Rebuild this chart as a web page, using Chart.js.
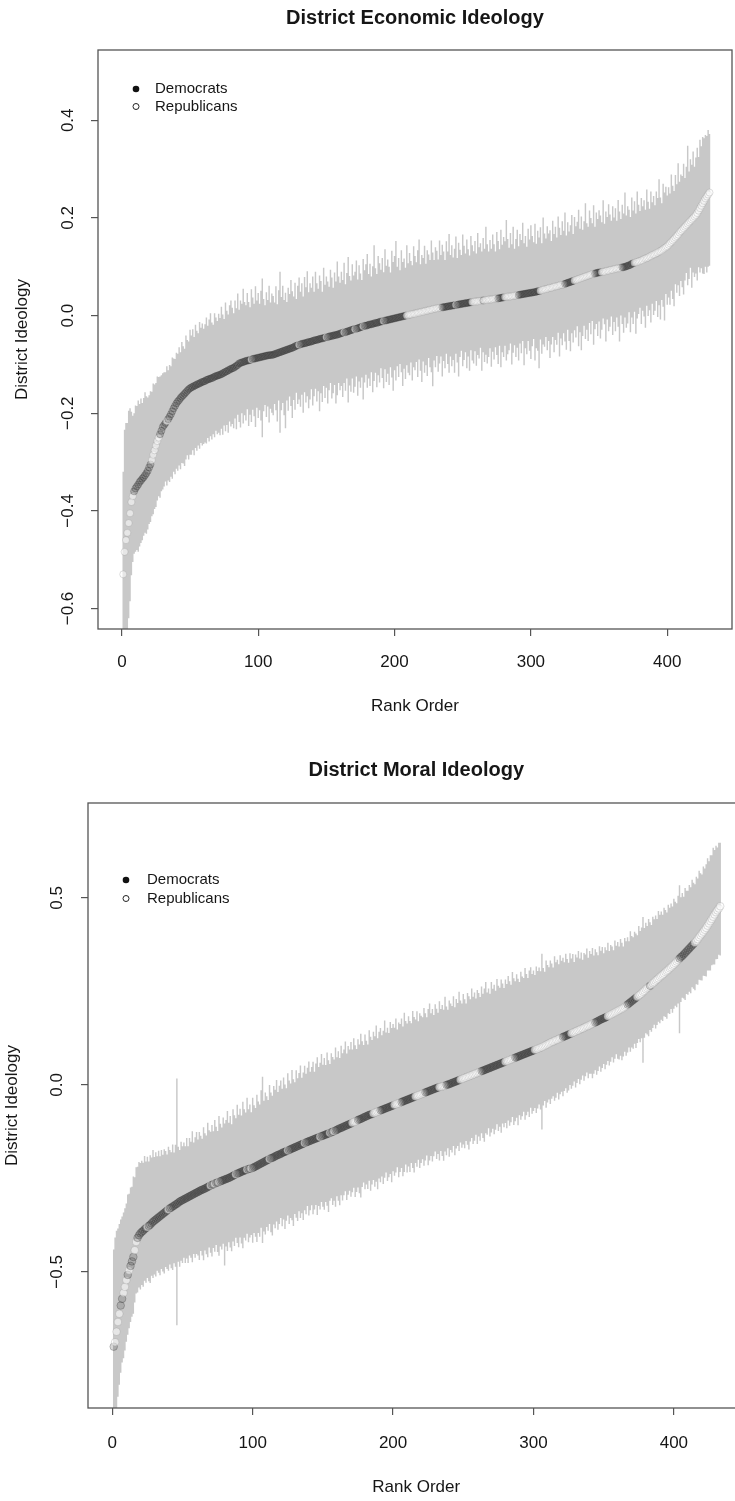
<!DOCTYPE html>
<html>
<head>
<meta charset="utf-8">
<script src="https://cdn.jsdelivr.net/npm/chart.js@4"></script>
<style>
  html, body { margin: 0; padding: 0; background: #fff; overflow: hidden; }
  #page { position: relative; width: 735px; height: 1501px; overflow: hidden; }
  canvas { position: absolute; left: 0; }
  #econ { top: 0; }
  #moral { top: 745px; }
</style>
</head>
<body>
<div id="page">
  <canvas id="econ" width="740" height="745"></canvas>
  <canvas id="moral" width="760" height="756"></canvas>
</div>
<script>
// All district values are in thousandths, listed by rank order (rank 1 first).
// est = point estimate, up / down = length of the interval above / below it.
// party: D = Democrat, R = Republican.

const xTicks = [0, 100, 200, 300, 400];
const econYTicks = [-0.6, -0.4, -0.2, 0, 0.2, 0.4];
const moralYTicks = [-0.5, 0, 0.5];

const econEst = [
  -530,-484,-460,-445,-425,-405,-382,-370,-360,-354,
  -350,-346,-341,-338,-334,-331,-327,-323,-318,-311,
  -305,-296,-285,-276,-266,-257,-250,-243,-236,-228,
  -224,-220,-216,-212,-207,-202,-196,-190,-185,-180,
  -176,-173,-169,-166,-163,-160,-157,-154,-151,-149,
  -147,-146,-144,-143,-141,-140,-139,-137,-136,-135,
  -134,-132,-131,-130,-129,-128,-127,-125,-124,-123,
  -122,-121,-120,-118,-117,-115,-114,-112,-111,-109,
  -108,-107,-105,-103,-101,-98,-97,-96,-95,-94,
  -93,-92,-92,-91,-90,-89,-88,-88,-87,-86,
  -86,-85,-84,-84,-83,-82,-82,-81,-81,-81,
  -80,-79,-78,-77,-76,-75,-74,-73,-72,-71,
  -70,-69,-68,-67,-66,-65,-63,-62,-61,-60,
  -59,-58,-57,-57,-56,-55,-54,-54,-53,-52,
  -51,-50,-50,-49,-48,-47,-47,-46,-45,-44,
  -44,-43,-42,-42,-41,-40,-40,-39,-38,-37,
  -36,-35,-34,-34,-33,-32,-31,-30,-29,-28,
  -28,-27,-26,-25,-24,-23,-22,-21,-21,-20,
  -19,-18,-18,-17,-16,-15,-15,-14,-13,-12,
  -12,-11,-10,-10,-9,-8,-8,-7,-6,-6,
  -5,-4,-4,-3,-2,-2,-1,0,0,1,
  2,2,3,4,4,5,6,6,7,8,
  8,9,10,10,11,12,12,13,14,14,
  15,15,16,16,17,17,18,18,19,19,
  20,20,21,21,22,22,23,23,24,24,
  25,25,26,26,27,27,28,28,29,29,
  29,30,30,31,31,31,32,32,33,33,
  33,34,34,35,35,35,36,36,37,37,
  38,38,39,39,39,40,40,41,41,42,
  42,43,43,44,44,45,45,46,46,47,
  47,48,48,49,50,50,51,52,53,54,
  54,55,56,57,57,58,59,60,60,61,
  62,63,63,64,65,66,67,68,69,70,
  71,72,73,74,75,76,77,78,79,80,
  81,82,83,84,85,86,86,87,88,88,
  89,89,90,90,91,92,92,93,94,94,
  95,96,96,97,97,98,99,99,100,101,
  102,103,104,106,107,108,109,110,111,112,
  113,114,116,117,118,119,121,122,124,125,
  126,128,129,131,132,134,136,138,140,142,
  145,148,151,154,157,160,163,166,170,173,
  176,179,182,185,188,191,194,197,200,203,
  206,210,215,220,225,230,235,240,244,248,252
];

const econUp = [
  210,250,240,225,230,215,185,165,160,170,
  165,172,160,168,155,162,170,158,150,148,
  150,140,146,135,128,132,124,118,114,110,
  108,104,112,100,106,98,110,102,96,104,
  98,108,94,112,100,92,116,104,98,120,
  106,118,100,124,110,104,126,112,120,108,
  116,128,110,122,134,114,108,130,120,112,
  126,116,138,120,110,142,124,114,132,140,
  124,112,136,118,146,110,128,120,150,122,
  114,138,120,108,144,126,112,148,118,132,
  110,136,160,118,104,130,114,142,108,126,
  120,106,138,100,128,165,112,134,104,118,
  98,126,112,140,116,104,130,96,122,138,
  108,124,96,136,114,146,102,120,110,132,
  100,140,116,104,130,118,96,144,108,124,
  114,102,136,120,98,128,110,150,118,104,
  126,108,142,98,120,152,112,102,134,110,
  118,140,100,128,110,96,138,114,126,146,
  104,124,98,118,160,112,100,136,120,106,
  130,100,146,112,124,108,96,140,116,128,
  158,104,122,96,136,112,118,98,144,106,
  126,110,100,138,118,104,128,150,98,116,
  110,134,96,124,114,102,142,116,100,126,
  118,100,138,108,128,114,96,134,112,148,
  104,124,98,116,140,96,126,112,100,142,
  118,102,130,110,96,136,116,104,124,98,
  140,110,118,100,128,106,150,114,98,122,
  104,132,112,96,136,118,100,140,108,124,
  114,158,118,100,130,106,142,96,116,134,
  100,124,112,146,104,118,96,132,110,138,
  116,102,140,98,124,110,130,96,148,114,
  104,128,112,118,96,136,108,122,100,142,
  118,102,130,110,146,98,124,104,116,136,
  96,130,110,118,142,102,126,98,114,150,
  108,100,132,116,104,140,96,124,110,128,
  116,102,146,98,122,110,136,114,100,130,
  106,124,98,140,116,100,128,110,152,104,
  122,114,98,136,108,126,100,144,116,102,
  128,110,120,100,140,114,98,132,108,120,
  100,126,112,148,110,96,134,114,124,104,
  118,102,138,112,98,128,106,146,104,116,
  110,132,100,120,160,104,126,112,136,102,
  118,134,110,140,122,136,128,130,124,132,120
];

const econDown = [
  160,180,190,200,195,180,150,135,128,130,
  130,138,132,128,126,120,118,124,120,116,
  118,115,122,120,126,122,120,130,124,128,
  126,120,132,126,134,128,138,130,140,134,
  142,134,146,136,140,148,138,132,144,136,
  138,130,142,128,136,126,134,124,130,128,
  126,130,120,128,118,126,116,124,112,120,
  118,124,112,126,108,122,110,128,106,118,
  114,124,106,130,102,120,132,104,126,110,
  122,100,134,112,128,104,118,140,102,124,
  108,130,165,112,100,126,104,138,110,118,
  124,102,116,140,98,165,120,106,132,160,
  104,126,98,118,144,108,130,96,120,112,
  128,104,142,100,122,110,136,118,98,132,
  114,100,126,106,148,112,130,98,124,104,
  136,110,96,128,118,102,140,124,100,116,
  108,132,104,120,96,146,112,126,100,130,
  118,98,138,110,124,104,150,116,100,128,
  110,126,98,140,118,102,132,108,124,96,
  116,138,100,126,110,134,98,120,148,106,
  128,100,122,96,114,142,108,130,102,118,
  124,98,136,110,116,100,132,96,120,144,
  102,126,112,134,98,118,128,158,106,120,
  98,130,114,100,142,110,126,96,118,136,
  104,124,112,138,100,118,148,108,96,128,
  116,100,134,110,140,98,120,126,102,132,
  110,118,96,144,106,126,112,130,118,100,
  138,108,124,100,116,134,98,142,112,122,
  100,130,118,110,96,140,116,102,126,108,
  134,100,120,96,146,112,124,98,118,136,
  110,96,140,116,122,158,100,130,112,118,
  98,126,108,144,116,102,134,110,120,96,
  146,110,124,100,118,136,96,120,142,106,
  126,102,118,96,138,110,148,120,100,128,
  110,134,98,122,96,146,114,104,130,100,
  136,118,96,108,144,100,124,116,96,134,
  108,128,100,120,150,98,116,134,104,126,
  118,96,138,110,124,100,146,116,108,96,
  130,104,118,142,98,120,110,136,100,124,
  116,98,132,110,140,102,118,148,96,120,
  108,126,100,120,138,96,116,104,130,102,
  118,136,110,98,126,116,96,140,112,124,
  120,138,116,132,128,144,150,140,156,148,150
];

const econParty = [
  'RRRRRRRRDD','DDDDDDDDDD','DRRRRRRDDD','DDRDDDDDDD','DDDDDDDDDD',
  'DDDDDDDDDD','DDDDDDDDDD','DDDDDDDDDD','DDDDDDDDDD','DDDDRDDDDD',
  'DDDDDDDDDD','DDDDDDDDDD','DDDDDDDDDR','DDDDDDDDDD','DDDDDDDDDR',
  'DDDDDDDDDD','DDRDDDDDDD','RDDDDDRDDD','DDDDDDDDDD','DRDDDDDDDD',
  'DDDDDDDDRR','RRRRRRRRRR','RRRRRRRRRR','RRRRDDDDDD','DDDDRDDDDD',
  'DDDDDDRRRR','RRRRDRRRRR','RRRRRDDDDD','RRRRRRRRRR','DDDDDDDDDD',
  'DDDDDDRRRR','RRRRRRRRRR','RRRRDDDDDD','DRRRRRRRRR','RRRRRRDDDD',
  'DRRRRRRRRR','RRRRRRDDDD','DDDDDRRRRR','RRRRRRRRRR','RRRRRRRRRR',
  'RRRRRRRRRR','RRRRRRRRRR','RRRRRRRRRRR'
].join('');

const moralEst = [
  -700,-688,-660,-634,-612,-590,-572,-556,-540,-522,
  -508,-496,-484,-472,-460,-442,-420,-409,-402,-397,
  -393,-390,-386,-383,-380,-377,-374,-370,-366,-363,
  -360,-357,-354,-351,-348,-345,-342,-339,-336,-333,
  -330,-328,-325,-323,-320,-318,-315,-312,-310,-308,
  -306,-304,-302,-300,-298,-296,-294,-292,-290,-288,
  -286,-284,-282,-280,-279,-277,-275,-273,-271,-269,
  -267,-266,-264,-262,-261,-259,-258,-256,-255,-253,
  -252,-250,-249,-247,-245,-243,-241,-239,-237,-236,
  -234,-232,-231,-229,-228,-226,-225,-224,-223,-222,
  -220,-218,-216,-214,-212,-210,-208,-206,-204,-202,
  -200,-198,-196,-195,-193,-191,-189,-187,-186,-184,
  -182,-180,-179,-177,-175,-174,-172,-170,-169,-167,
  -165,-164,-162,-160,-159,-157,-155,-154,-152,-151,
  -149,-148,-146,-145,-143,-142,-140,-139,-137,-136,
  -134,-133,-131,-130,-128,-127,-125,-124,-122,-120,
  -118,-116,-115,-113,-111,-110,-108,-106,-105,-103,
  -101,-99,-98,-96,-94,-92,-91,-89,-87,-85,
  -84,-82,-80,-79,-78,-76,-74,-73,-71,-70,
  -68,-67,-65,-64,-62,-61,-59,-58,-56,-55,
  -53,-52,-50,-49,-47,-46,-44,-43,-41,-40,
  -38,-37,-35,-34,-32,-31,-29,-28,-26,-25,
  -23,-22,-20,-19,-17,-16,-14,-13,-11,-10,
  -8,-7,-6,-5,-4,-3,-2,0,1,2,
  4,5,7,8,10,11,13,14,16,17,
  19,20,22,23,25,26,28,29,31,32,
  34,35,37,38,40,41,43,44,46,47,
  49,50,52,53,55,56,58,59,61,62,
  64,65,67,68,70,71,73,74,76,77,
  79,80,82,83,85,86,88,89,91,92,
  94,95,97,98,100,101,103,105,107,109,
  111,113,115,116,118,120,121,123,125,126,
  128,130,131,133,135,136,138,140,141,143,
  145,146,148,150,151,153,155,157,158,160,
  162,164,166,167,169,171,173,175,177,178,
  180,182,184,186,188,190,192,194,196,198,
  200,202,204,206,209,212,215,218,221,224,
  227,230,233,236,239,242,245,249,252,256,
  259,262,265,268,272,275,279,282,285,289,
  292,295,298,302,305,308,312,315,319,322,
  326,330,334,338,342,345,349,353,357,361,
  365,369,373,377,381,385,390,395,400,405,
  410,415,420,426,432,438,444,450,456,462,467,472,478
];

const moralUp = [
  260,280,270,250,240,230,220,215,210,205,
  215,205,210,200,215,195,200,190,196,188,
  190,182,196,178,188,172,186,176,192,170,
  180,166,178,160,174,158,170,162,150,168,
  156,148,166,142,160,335,150,138,158,144,
  152,140,160,136,156,144,170,138,150,162,
  140,158,146,136,166,148,140,172,150,144,
  160,142,170,150,138,176,154,142,168,150,
  158,180,148,164,140,178,160,150,184,156,
  170,150,186,164,154,192,160,172,150,188,
  166,156,190,170,160,196,230,164,184,172,
  160,198,176,166,190,178,202,168,184,196,
  172,200,180,168,206,186,176,210,184,174,
  204,182,194,212,178,190,206,184,198,214,
  184,196,208,180,200,216,188,198,220,190,
  206,186,218,196,184,212,200,192,222,194,
  208,188,220,198,206,226,192,210,200,218,
  196,224,204,192,216,200,228,206,194,220,
  202,190,226,208,198,218,204,232,196,212,
  220,200,210,236,202,214,198,226,208,218,
  206,230,198,216,210,224,200,236,212,204,
  222,208,200,232,214,206,226,198,218,210,
  204,228,212,200,220,234,206,216,198,226,
  212,200,230,208,218,204,238,210,200,224,
  214,206,230,200,220,208,236,212,202,226,
  210,198,224,214,204,232,208,218,200,222,
  212,200,226,206,218,234,204,214,198,228,
  208,218,200,230,210,204,224,212,198,220,
  206,226,210,200,232,214,204,222,208,198,
  224,210,204,230,212,200,218,226,206,214,
  200,222,208,216,204,250,210,198,226,212,
  204,220,210,198,226,208,214,200,222,206,
  212,198,220,204,192,216,200,210,188,206,
  196,212,190,204,184,200,194,208,182,198,
  188,202,180,196,186,176,198,184,192,174,
  188,178,196,172,186,180,168,192,176,184,
  170,188,176,164,184,172,180,166,190,174,
  168,180,172,164,186,170,176,200,168,178,
  166,182,170,160,178,168,174,162,180,166,
  172,160,176,166,156,174,162,170,158,176,
  164,156,172,196,160,168,154,174,162,158,
  170,160,176,164,156,172,162,178,166,158,
  174,164,170,180,166,176,170,184,172,178,168,176,170
];

const moralDown = [
  200,220,210,200,190,180,170,175,170,165,
  160,155,150,148,152,140,138,146,140,150,
  142,150,138,146,136,148,156,140,150,144,
  152,140,148,158,144,154,162,148,156,164,
  150,162,170,154,166,325,158,174,160,168,
  156,172,162,176,158,166,180,160,172,164,
  170,184,162,176,190,166,178,188,164,180,
  192,170,182,166,186,198,174,184,170,230,
  180,194,172,188,200,176,190,170,186,198,
  174,192,206,180,188,172,196,184,178,200,
  176,188,204,182,194,172,215,186,196,178,
  190,174,198,208,180,192,176,200,186,172,
  196,180,206,186,174,198,184,192,208,178,
  190,200,176,196,184,204,180,192,172,198,
  186,174,200,188,178,206,184,194,176,190,
  200,180,192,210,182,176,196,186,204,178,
  192,206,180,196,184,174,200,188,178,196,
  186,176,202,190,180,198,210,184,174,194,
  182,196,176,204,188,178,198,186,208,180,
  192,178,200,184,172,196,188,180,204,176,
  190,182,170,198,186,176,200,190,172,194,
  180,196,174,188,202,178,190,172,196,184,
  176,194,182,170,198,186,176,192,180,168,
  190,178,196,172,186,200,176,188,170,194,
  178,186,170,196,180,174,190,168,184,176,
  188,170,182,196,176,168,186,178,164,190,
  172,184,166,180,192,170,176,160,184,174,
  166,182,172,158,178,168,186,162,174,164,
  180,160,176,168,156,178,170,162,184,158,
  172,164,154,176,166,158,174,150,168,162,
  156,170,160,150,166,220,158,148,168,156,
  150,164,152,146,160,154,142,162,150,144,
  158,146,140,154,150,136,148,142,132,150,
  140,130,146,136,126,142,132,124,140,130,
  132,146,136,128,142,134,124,140,132,122,
  138,128,120,134,126,116,132,124,114,128,
  132,124,138,130,120,134,128,118,132,124,
  130,120,134,124,116,128,120,190,126,118,
  124,132,118,126,120,114,128,122,116,124,
  118,124,114,120,128,116,122,112,126,118,
  114,122,116,200,120,112,118,126,114,120,
  116,124,112,120,128,116,122,114,120,126,
  118,124,130,120,126,132,124,128,134,126,130,124,132
];

const moralParty = [
  'DRRRRDDRRR','DRDDDRRDDD','DDDDRDDDDD','DDDDDDDDDR','DDDDDDDDDD',
  'DDDDDDDDDD','DDDDDDDDDR','DDRDDRDDDD','DDDDDDDRDD','DDDDDRDDRD',
  'DDDDDDDDDD','DRDDDDDDDD','DDDDRDDDDD','DDDDDDRDDD','DDDDDDDRDD',
  'DDDDRDDRDD','DDDDDDDDDD','RRRRDDDDDD','DDDDDRRRRR','DDDDDDDDDD',
  'RRRRRDDDDD','DDDDDRRRRR','RRDDDDDDDD','DDRRRRRDDD','DDDDDDDRRR',
  'RRRRRRRRRR','RRDDDDDDDD','DDDDDDDDDR','RRRRRRDDDD','DDDDDDDDDD',
  'RRRRRRRRRR','RRRRRRRRRR','DDDDDDRRRR','RRRRRRRRRR','RRRDDDDDDD',
  'DDRRRRRRRR','RRRRRRDDDD','DDDRRRRRRR','RRDRRRRRRR','RRRRRRRRRR',
  'RRRDDDDDDD','DDDDRRRRRR','RRRRRRRRRRRRR'
].join('');

const TEXT = '#161616';
const FONT = "'Liberation Sans', Arial, Helvetica, sans-serif";
const BAR_COLOR = 'rgb(200,200,200)';
const DEM_FILL = 'rgba(50,50,50,0.19)';
const DEM_LINE = 'rgba(35,35,35,0.26)';
const REP_FILL = 'rgba(255,255,255,0.55)';
const REP_LINE = 'rgba(135,135,135,0.28)';

function tickText(v) {
    return v.toFixed(1).replace('-', '\u2212');
}

function buildData(est, up, down) {
    const bars = [];
    const points = [];
    est.forEach((e, i) => {
        const rank = i + 1;
        bars.push({x: rank, y: (e - down[i]) / 1000});
        bars.push({x: rank, y: (e + up[i]) / 1000});
        bars.push({x: rank, y: null});
        points.push({x: rank, y: e / 1000});
    });
    return {bars, points};
}

function drawDistrictChart(canvas, data, look) {
    const {bars, points} = buildData(data.est, data.up, data.down);
    const party = data.party;
    const box = look.box;

    // R-style frame, titles, rotated tick labels and the legend
    const frame = {
        id: 'frame',
        afterDraw(chart) {
            const ctx = chart.ctx;
            const area = chart.chartArea;
            const xs = chart.scales.x;
            const ys = chart.scales.y;
            ctx.save();
            ctx.strokeStyle = '#555';
            ctx.lineWidth = 1.3;
            ctx.strokeRect(area.left, area.top, area.right - area.left, area.bottom - area.top);

            ctx.fillStyle = TEXT;
            ctx.textAlign = 'center';
            ctx.textBaseline = 'middle';
            ctx.font = `bold 20px ${FONT}`;
            ctx.fillText(look.title, (area.left + area.right) / 2, look.titleY);

            ctx.font = `17px ${FONT}`;
            xTicks.forEach(v => {
                ctx.fillText(String(v), xs.getPixelForValue(v), area.bottom + look.xLabelGap);
            });
            ctx.fillText('Rank Order', (area.left + area.right) / 2, area.bottom + look.xTitleGap);

            data.yTicks.forEach(v => {
                ctx.save();
                ctx.translate(look.yLabelX, ys.getPixelForValue(v));
                ctx.rotate(-Math.PI / 2);
                ctx.fillText(tickText(v), 0, 0);
                ctx.restore();
            });
            ctx.save();
            ctx.translate(look.yTitleX, (area.top + area.bottom) / 2);
            ctx.rotate(-Math.PI / 2);
            ctx.fillText('District Ideology', 0, 0);
            ctx.restore();

            // legend
            ctx.font = `15px ${FONT}`;
            ctx.textAlign = 'left';
            ctx.fillStyle = '#111';
            ctx.beginPath();
            ctx.arc(look.legendX, look.legendY[0], 3.3, 0, Math.PI * 2);
            ctx.fill();
            ctx.strokeStyle = '#222';
            ctx.lineWidth = 1;
            ctx.beginPath();
            ctx.arc(look.legendX, look.legendY[1], 3, 0, Math.PI * 2);
            ctx.stroke();
            ctx.fillStyle = TEXT;
            ctx.fillText('Democrats', look.legendTextX, look.legendY[0]);
            ctx.fillText('Republicans', look.legendTextX, look.legendY[1]);
            ctx.restore();
        }
    };

    const tickGrid = {
        drawOnChartArea: false,
        drawTicks: true,
        tickLength: 7,
        color: '#555',
        lineWidth: 1.2
    };

    // Chart.js paints the first dataset last, so the markers come first here
    return new Chart(canvas.getContext('2d'), {
        type: 'line',
        data: {
            datasets: [{
                data: points,
                showLine: false,
                pointRadius: look.r,
                pointBorderWidth: 1,
                pointBackgroundColor: ctx => party[ctx.dataIndex] === 'D' ? DEM_FILL : REP_FILL,
                pointBorderColor: ctx => party[ctx.dataIndex] === 'D' ? DEM_LINE : REP_LINE
            }, {
                data: bars,
                borderColor: BAR_COLOR,
                borderWidth: 1.45,
                pointRadius: 0,
                spanGaps: false,
                tension: 0
            }]
        },
        options: {
            responsive: false,
            animation: false,
            events: [],
            layout: {
                padding: {top: box.top, right: canvas.width - box.right, left: 0, bottom: 0}
            },
            plugins: {
                legend: {display: false},
                tooltip: {enabled: false},
                title: {display: false}
            },
            scales: {
                x: {
                    type: 'linear',
                    min: look.xMin,
                    max: look.xMax,
                    afterBuildTicks: s => { s.ticks = xTicks.map(v => ({value: v})); },
                    afterFit: s => { s.height = canvas.height - box.bottom; },
                    ticks: {display: false},
                    grid: tickGrid,
                    border: {display: false}
                },
                y: {
                    type: 'linear',
                    min: look.yMin,
                    max: look.yMax,
                    afterBuildTicks: s => { s.ticks = data.yTicks.map(v => ({value: v})); },
                    afterFit: s => { s.width = box.left; },
                    ticks: {display: false},
                    grid: tickGrid,
                    border: {display: false}
                }
            }
        },
        plugins: [frame]
    });
}

drawDistrictChart(document.getElementById('econ'),
    {est: econEst, up: econUp, down: econDown, party: econParty, yTicks: econYTicks},
    {
        title: 'District Economic Ideology',
        box: {left: 98, top: 50, right: 732, bottom: 629},
        xMin: -17.5, xMax: 447.5, yMin: -0.642, yMax: 0.544,
        titleY: 18, xLabelGap: 33, xTitleGap: 77,
        yLabelX: 68, yTitleX: 22,
        legendX: 136, legendTextX: 155, legendY: [89, 106.5],
        r: 3.5
    });

drawDistrictChart(document.getElementById('moral'),
    {est: moralEst, up: moralUp, down: moralDown, party: moralParty, yTicks: moralYTicks},
    {
        title: 'District Moral Ideology',
        box: {left: 88, top: 58, right: 744.5, bottom: 663},
        xMin: -17.3, xMax: 450.3, yMin: -0.864, yMax: 0.754,
        titleY: 25, xLabelGap: 35, xTitleGap: 79,
        yLabelX: 57, yTitleX: 12,
        legendX: 126, legendTextX: 147, legendY: [135, 153.5],
        r: 3.8
    });
</script>
</body>
</html>
